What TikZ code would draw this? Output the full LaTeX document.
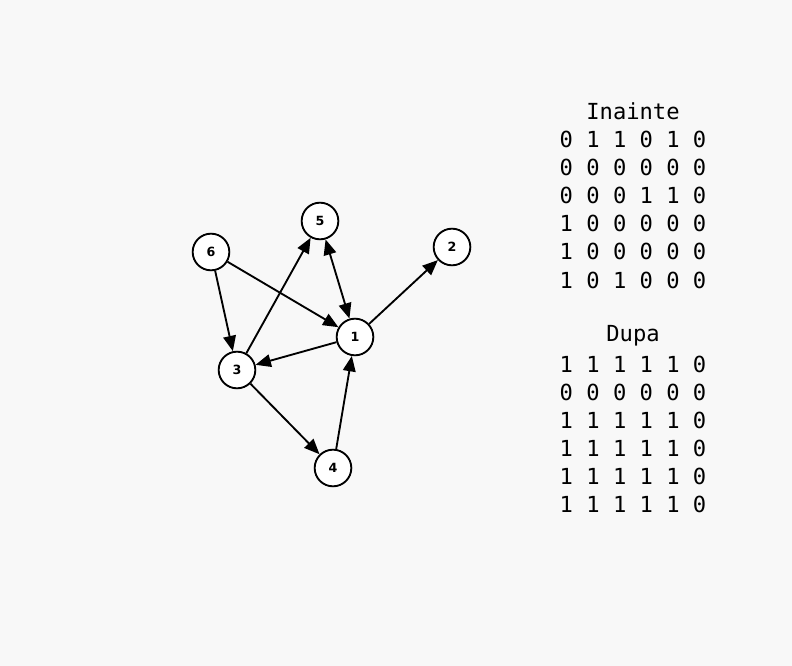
\documentclass[tikz,border=0pt]{standalone}
\usepackage{fontspec}
\setmainfont{DejaVu Sans}
\newfontfamily\matfont{DejaVu Sans Mono}
\usetikzlibrary{arrows.meta}
\definecolor{bg}{HTML}{F8F8F8}
\begin{document}
\begin{tikzpicture}[x=0.75pt,y=-0.75pt,
  vtx/.style={circle,draw=black,fill=white,line width=1.4pt,minimum size=27.5pt,inner sep=0pt,font=\fontsize{9.5pt}{11pt}\selectfont\bfseries},
  edge/.style={line width=1.4pt,-{Triangle[length=11.5pt,width=9.5pt]}},
  dedge/.style={line width=1.4pt,{Triangle[length=11.5pt,width=9.5pt]}-{Triangle[length=11.5pt,width=9.5pt]}},
  mat/.style={font=\matfont\fontsize{16.6pt}{19pt}\selectfont,inner sep=0pt,anchor=center}]
\fill[bg] (0,0) rectangle (792,666);
\useasboundingbox (0,0) rectangle (792,666);
\node[vtx] (n5) at (320,221) {5};
\node[vtx] (n6) at (211,252) {6};
\node[vtx] (n2) at (452,247) {2};
\node[vtx] (n1) at (355,337) {1};
\node[vtx] (n3) at (237,370) {3};
\node[vtx] (n4) at (333,468) {4};
\draw[edge] (n6) -- (n3);
\draw[edge] (n6) -- (n1);
\draw[edge] (n3) -- (n5);
\draw[dedge] (n5) -- (n1);
\draw[edge] (n1) -- (n2);
\draw[edge] (n1) -- (n3);
\draw[edge] (n3) -- (n4);
\draw[edge] (n4) -- (n1);
\node[mat] (t1) at (633,111) {Inainte};
\node[mat] (a1) at (633,139) {0 1 1 0 1 0};
\node[mat] (a2) at (633,167) {0 0 0 0 0 0};
\node[mat] (a3) at (633,195) {0 0 0 1 1 0};
\node[mat] (a4) at (633,223) {1 0 0 0 0 0};
\node[mat] (a5) at (633,251) {1 0 0 0 0 0};
\node[mat] (a6) at (633,280) {1 0 1 0 0 0};
\node[mat] (t2) at (633,336) {Dupa};
\node[mat] (b1) at (633,364) {1 1 1 1 1 0};
\node[mat] (b2) at (633,392) {0 0 0 0 0 0};
\node[mat] (b3) at (633,420) {1 1 1 1 1 0};
\node[mat] (b4) at (633,448) {1 1 1 1 1 0};
\node[mat] (b5) at (633,476) {1 1 1 1 1 0};
\node[mat] (b6) at (633,504) {1 1 1 1 1 0};
\end{tikzpicture}
\end{document}
